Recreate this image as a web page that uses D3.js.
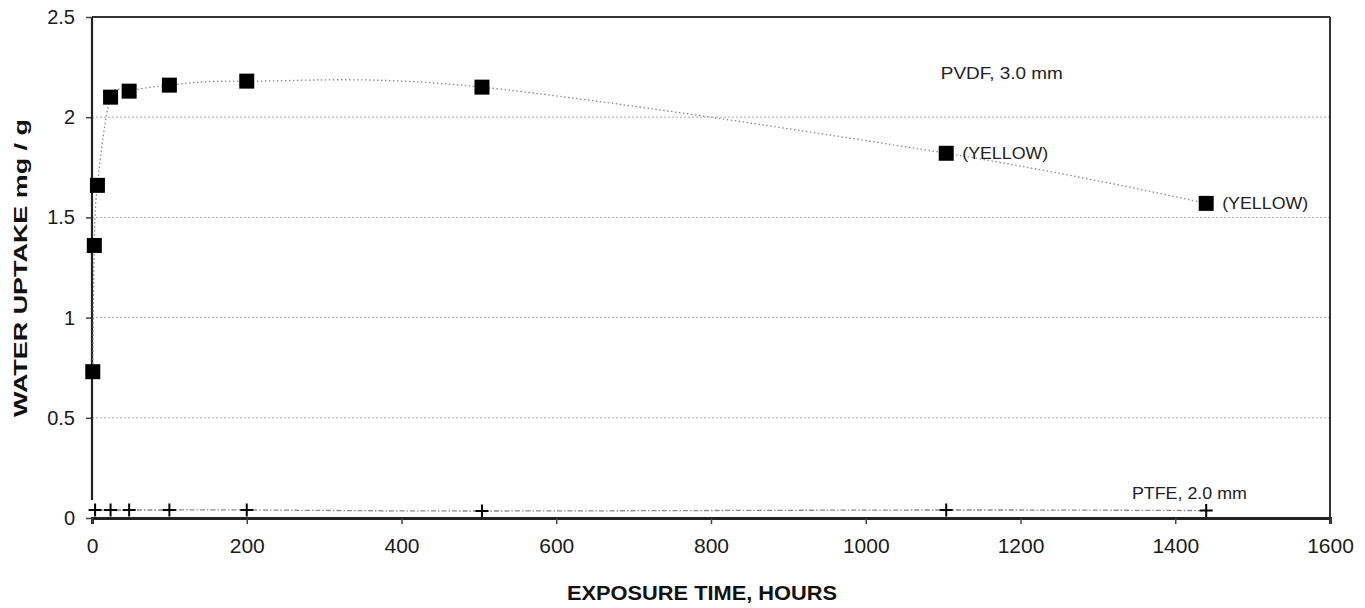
<!DOCTYPE html>
<html>
<head>
<meta charset="utf-8">
<script src="https://cdn.jsdelivr.net/npm/d3@7"></script>
<style>
  html, body { margin: 0; padding: 0; background: #fff; }
  svg { display: block; font-family: "Liberation Sans", Arial, sans-serif; }
</style>
</head>
<body>
<svg id="chart" width="1365" height="608"></svg>
<script>
// ---- data ----
const pvdfHours  = [1, 3, 7, 24, 48, 100, 200, 504, 1104, 1440];
const pvdfUptake = [0.73, 1.36, 1.66, 2.10, 2.13, 2.16, 2.18, 2.15, 1.82, 1.57];
const ptfeHours  = [4, 24, 48, 100, 200, 504, 1104, 1440];
const ptfeUptake = [0.04, 0.04, 0.04, 0.04, 0.04, 0.035, 0.04, 0.037];
const xTicks = [0, 200, 400, 600, 800, 1000, 1200, 1400, 1600];
const yTicks = [0, 0.5, 1, 1.5, 2, 2.5];
const yGrid  = [0.5, 1, 1.5, 2];
const pvdfLabel = "PVDF, 3.0 mm";
const ptfeLabel = "PTFE, 2.0 mm";
const yellowNote = "(YELLOW)";
const yellowHours = [1104, 1440];
const xTitle = "EXPOSURE TIME, HOURS";
const yTitle = "WATER UPTAKE mg / g";

// ---- layout ----
const W = 1365, H = 608;
const m = { left: 92, right: 35, top: 17, bottom: 90 };
const svg = d3.select("#chart");
const x = d3.scaleLinear().domain([0, 1600]).range([m.left, W - m.right]);
const y = d3.scaleLinear().domain([0, 2.5]).range([H - m.bottom, m.top]);

// gridlines
svg.append("g").selectAll("line").data(yGrid).join("line")
  .attr("x1", x(0)).attr("x2", x(1600))
  .attr("y1", d => y(d)).attr("y2", d => y(d))
  .attr("stroke", "#b0b0b0").attr("stroke-width", 1)
  .attr("stroke-dasharray", "2,2");

// frame top & right
svg.append("line").attr("x1", x(0)).attr("x2", x(1600)).attr("y1", y(2.5)).attr("y2", y(2.5))
  .attr("stroke", "#333").attr("stroke-width", 2);
svg.append("line").attr("x1", x(1600)).attr("x2", x(1600)).attr("y1", y(2.5)).attr("y2", y(0))
  .attr("stroke", "#333").attr("stroke-width", 2);

// y axis
const yAxis = svg.append("g").attr("transform", `translate(${x(0)},0)`)
  .call(d3.axisLeft(y).tickValues(yTicks).tickSize(6).tickPadding(11)
    .tickFormat(d3.format("")));
yAxis.select(".domain").remove();
yAxis.append("line").attr("x1", 0).attr("x2", 0).attr("y1", y(2.5)).attr("y2", y(0.09))
  .attr("stroke", "#222").attr("stroke-width", 2.2);
yAxis.selectAll(".tick line").attr("stroke", "#444").attr("stroke-width", 1.5);
yAxis.selectAll(".tick text").attr("font-size", 20).attr("fill", "#1a1a1a")
  .attr("font-family", "Liberation Sans, Arial, sans-serif");

// x axis
const xAxis = svg.append("g").attr("transform", `translate(0,${y(0)})`)
  .call(d3.axisBottom(x).tickValues(xTicks).tickSize(6).tickPadding(14)
    .tickFormat(d3.format("d")));
xAxis.select(".domain").attr("stroke", "#222").attr("stroke-width", 3);
xAxis.selectAll(".tick line").attr("stroke", "#444").attr("stroke-width", 1.5);
xAxis.selectAll(".tick text").attr("font-size", 21).attr("fill", "#1a1a1a")
  .attr("font-family", "Liberation Sans, Arial, sans-serif");

// PVDF series
const pvdf = pvdfHours.map((h, i) => [h, pvdfUptake[i]]);
svg.append("path").datum(pvdf)
  .attr("d", d3.line().x(d => x(d[0])).y(d => y(d[1])).curve(d3.curveCardinal.tension(0)))
  .attr("fill", "none").attr("stroke", "#8a8a8a").attr("stroke-width", 1.3)
  .attr("stroke-dasharray", "1.5,2.5");
svg.append("g").selectAll("rect").data(pvdf).join("rect")
  .attr("x", d => x(d[0]) - 7.5).attr("y", d => y(d[1]) - 7.5)
  .attr("width", 15).attr("height", 15).attr("fill", "#000");

// PTFE series
const ptfe = ptfeHours.map((h, i) => [h, ptfeUptake[i]]);
svg.append("path").datum(ptfe)
  .attr("d", d3.line().x(d => x(d[0])).y(d => y(d[1])).curve(d3.curveCardinal.tension(0)))
  .attr("fill", "none").attr("stroke", "#8a8a8a").attr("stroke-width", 1.3)
  .attr("stroke-dasharray", "5,2,1.5,2");
svg.append("g").selectAll("path").data(ptfe).join("path")
  .attr("transform", d => `translate(${x(d[0])},${y(d[1])})`)
  .attr("d", "M-6.5,0H6.5M0,-6.5V6.5").attr("stroke", "#000").attr("stroke-width", 2);

// annotations
const ann = svg.append("g").attr("font-size", 17).attr("fill", "#222");
ann.append("text").attr("x", x(1097)).attr("y", y(2.19)).text(pvdfLabel)
  .attr("textLength", 122).attr("lengthAdjust", "spacingAndGlyphs");
ann.append("text").attr("x", x(1344)).attr("y", y(0.095)).text(ptfeLabel)
  .attr("textLength", 115).attr("lengthAdjust", "spacingAndGlyphs");
ann.selectAll(".yel").data(yellowHours).join("text").attr("class", "yel")
  .attr("x", h => x(h) + 16)
  .attr("y", h => y(pvdfUptake[pvdfHours.indexOf(h)]) + 6)
  .attr("textLength", 86).attr("lengthAdjust", "spacingAndGlyphs")
  .text(yellowNote);

// axis titles
svg.append("text").attr("x", (x(0) + x(1600)) / 2 - 9).attr("y", 600)
  .attr("text-anchor", "middle").attr("font-size", 21).attr("font-weight", "bold")
  .attr("fill", "#111").attr("textLength", 270).attr("lengthAdjust", "spacingAndGlyphs")
  .text(xTitle);
svg.append("text").attr("transform", "translate(27,268) rotate(-90)")
  .attr("text-anchor", "middle").attr("font-size", 19).attr("font-weight", "bold")
  .attr("fill", "#111").attr("textLength", 298).attr("lengthAdjust", "spacingAndGlyphs")
  .text(yTitle);
</script>
</body>
</html>
